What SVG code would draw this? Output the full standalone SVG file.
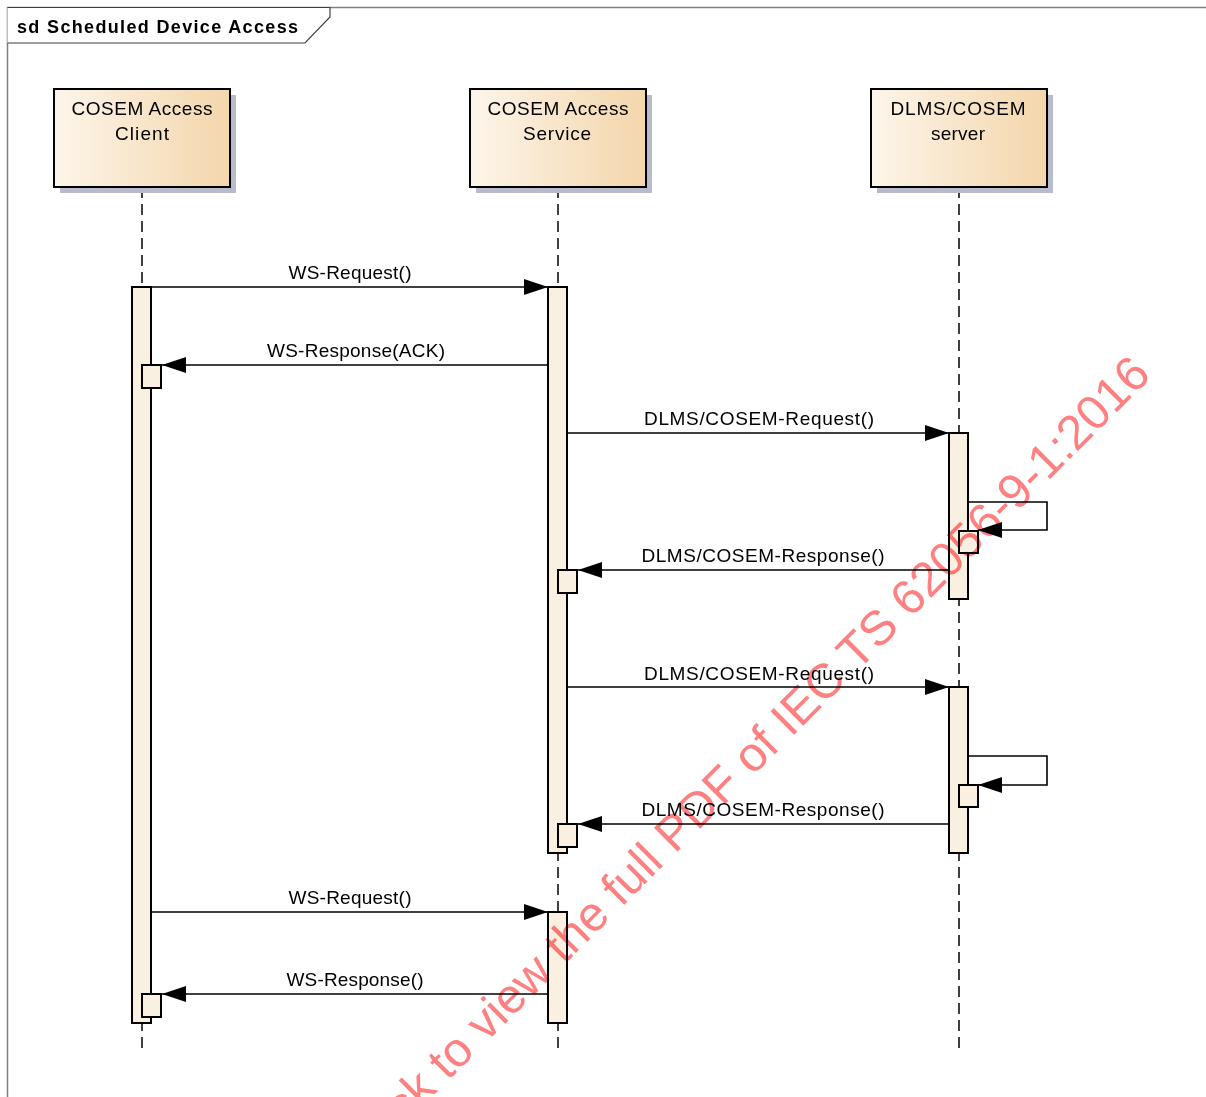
<svg xmlns="http://www.w3.org/2000/svg" width="1206" height="1097" viewBox="0 0 1206 1097">
<defs>
<linearGradient id="g" x1="0" y1="0" x2="1" y2="0">
<stop offset="0" stop-color="#fdf5ea"/>
<stop offset="1" stop-color="#f3d6ab"/>
</linearGradient>
<marker id="ah" markerUnits="userSpaceOnUse" markerWidth="26" markerHeight="18" refX="24" refY="8" orient="auto">
<path d="M0,0 L24,8 L0,16 z" fill="#000"/>
</marker>
</defs>
<style>
text{font-family:"Liberation Sans",Arial,sans-serif;fill:#000}
.nt{font-size:19px;text-anchor:middle}
.ml{font-size:19px;text-anchor:middle}
.box{fill:url(#g);stroke:#000;stroke-width:2}
.sh{fill:#b7bbcc}
.life{stroke:#000;stroke-width:1.5;stroke-dasharray:11 6;fill:none}
.act{fill:#faf0e2;stroke:#000;stroke-width:2}
.msg{stroke:#000;stroke-width:1.6;fill:none;marker-end:url(#ah)}
.wm{font-size:48.5px;fill:#ff8080;mix-blend-mode:multiply}
</style>
<rect width="1206" height="1097" fill="#fff"/>
<g id="frame">
<path d="M7.5,1097 V7.5 H1206" fill="none" stroke="#808080" stroke-width="1.5"/>
<path d="M7.5,7.5 H330 V17 L305,43 H7.5" fill="#fff" stroke="#404040" stroke-width="1.2"/>
<text x="17" y="33" font-size="18" font-weight="bold" textLength="281" lengthAdjust="spacing">sd Scheduled Device Access</text>
</g>
<g id="lifelines">
<line class="life" x1="142" y1="187" x2="142" y2="1052"/>
<line class="life" x1="558" y1="187" x2="558" y2="1052"/>
<line class="life" x1="959" y1="187" x2="959" y2="1052"/>
</g>
<g id="client">
<rect class="sh" x="60" y="95" width="176" height="98"/>
<rect class="box" x="54" y="89" width="176" height="98"/>
<text class="nt" x="142" y="115" textLength="141" lengthAdjust="spacing">COSEM Access</text>
<text class="nt" x="142" y="140" textLength="54" lengthAdjust="spacing">Client</text>
</g>
<g id="service">
<rect class="sh" x="476" y="95" width="176" height="98"/>
<rect class="box" x="470" y="89" width="176" height="98"/>
<text class="nt" x="558" y="115" textLength="141" lengthAdjust="spacing">COSEM Access</text>
<text class="nt" x="557" y="140" textLength="68" lengthAdjust="spacing">Service</text>
</g>
<g id="server">
<rect class="sh" x="877" y="95" width="176" height="98"/>
<rect class="box" x="871" y="89" width="176" height="98"/>
<text class="nt" x="958" y="115" textLength="135" lengthAdjust="spacing">DLMS/COSEM</text>
<text class="nt" x="958" y="140" textLength="54" lengthAdjust="spacing">server</text>
</g>
<g id="activations">
<rect class="act" x="132" y="287" width="19" height="736"/>
<rect class="act" x="548" y="287" width="19" height="566"/>
<rect class="act" x="548" y="912" width="19" height="111"/>
<rect class="act" x="949" y="433" width="19" height="166"/>
<rect class="act" x="949" y="687" width="19" height="166"/>
<rect class="act" x="142" y="365" width="19" height="23"/>
<rect class="act" x="142" y="994" width="19" height="23"/>
<rect class="act" x="558" y="570" width="19" height="23"/>
<rect class="act" x="558" y="824" width="19" height="23"/>
<rect class="act" x="959" y="531" width="19" height="22"/>
<rect class="act" x="959" y="785" width="19" height="22"/>
</g>
<g id="connectors">
<line class="msg" x1="151" y1="287" x2="548" y2="287"/>
<text class="ml" x="350" y="279" textLength="123" lengthAdjust="spacing">WS-Request()</text>
<line class="msg" x1="548" y1="365" x2="162" y2="365"/>
<text class="ml" x="356" y="357" textLength="178" lengthAdjust="spacing">WS-Response(ACK)</text>
<line class="msg" x1="567" y1="433" x2="949" y2="433"/>
<text class="ml" x="759" y="425" textLength="230" lengthAdjust="spacing">DLMS/COSEM-Request()</text>
<path class="msg" d="M968,502 H1047 V530 H978"/>
<line class="msg" x1="949" y1="570" x2="578" y2="570"/>
<text class="ml" x="763" y="562" textLength="243" lengthAdjust="spacing">DLMS/COSEM-Response()</text>
<line class="msg" x1="567" y1="687" x2="949" y2="687"/>
<text class="ml" x="759" y="680" textLength="230" lengthAdjust="spacing">DLMS/COSEM-Request()</text>
<path class="msg" d="M968,756 H1047 V785 H978"/>
<line class="msg" x1="949" y1="824" x2="578" y2="824"/>
<text class="ml" x="763" y="816" textLength="243" lengthAdjust="spacing">DLMS/COSEM-Response()</text>
<line class="msg" x1="151" y1="912" x2="548" y2="912"/>
<text class="ml" x="350" y="904" textLength="123" lengthAdjust="spacing">WS-Request()</text>
<line class="msg" x1="548" y1="994" x2="162" y2="994"/>
<text class="ml" x="355" y="986" textLength="137" lengthAdjust="spacing">WS-Response()</text>
</g>
<text class="wm" x="364" y="1165" transform="rotate(-45 364 1165)">Click to view the full PDF of IEC TS 62056-9-1:2016</text>
</svg>
